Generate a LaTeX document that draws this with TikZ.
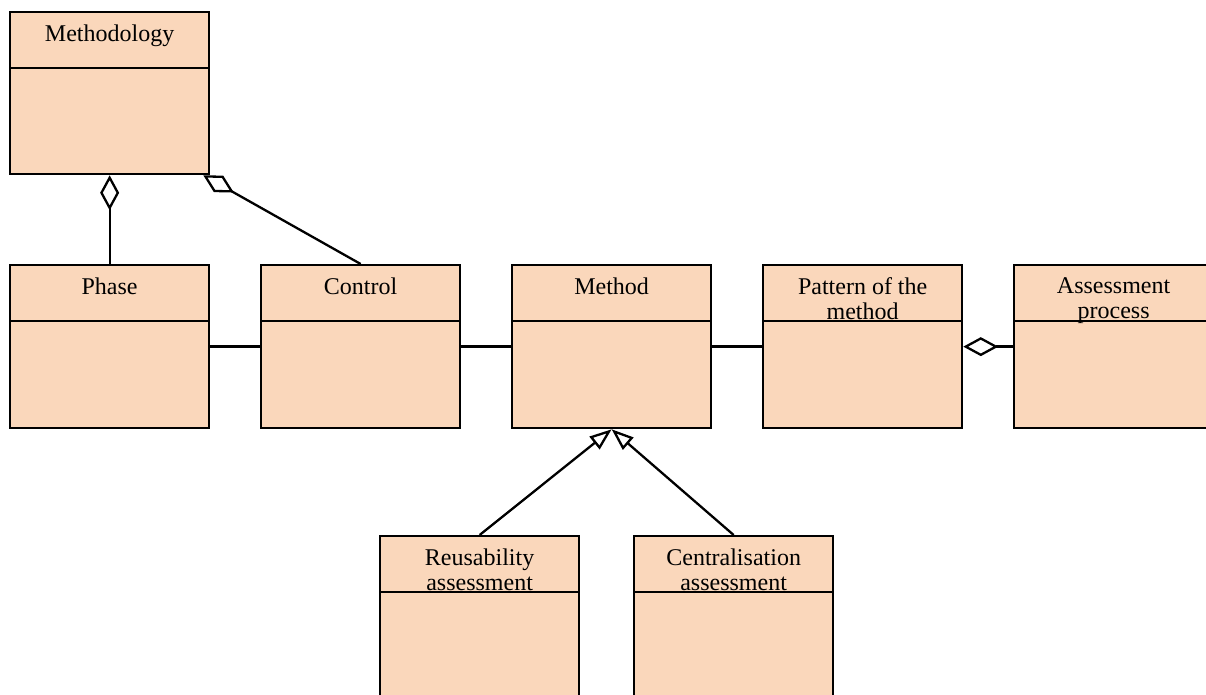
\documentclass[tikz,border=0pt]{standalone}
\usepackage{fontspec}
\setmainfont{Liberation Serif}
\usetikzlibrary{arrows.meta,calc}
\definecolor{classfill}{RGB}{250,215,187}
\begin{document}
\begin{tikzpicture}[x=0.5pt,y=-0.5pt,
  classbox/.style={draw=black, line width=1.15pt, fill=classfill, inner sep=0pt,
    minimum width=99.5pt, minimum height=81.5pt, anchor=north west},
  classname/.style={anchor=north, align=center, inner sep=0pt,
    font=\fontsize{12}{12.5}\selectfont},
  link/.style={line width=1.15pt, draw=black},
  aggr/.style={link, {Diamond[open, length=17.5pt, width=9.5pt, line width=1.15pt]}-},
  gen/.style={link, -{Triangle[open, length=11pt, width=8pt, line width=1.15pt]}}
]
\clip (0,0) rectangle (1206,695);

% class boxes
\node[classbox, minimum height=81pt] (methodology) at (9,11) {};
\node[classbox] (phase)   at (9,264) {};
\node[classbox] (control) at (260,264) {};
\node[classbox] (method)  at (511,264) {};
\node[classbox] (pattern) at (762,264) {};
\node[classbox] (assess)  at (1013,264) {};
\node[classbox, minimum height=100pt] (reuse)   at (379,535) {};
\node[classbox, minimum height=100pt] (central) at (633,535) {};

% name compartments
\foreach \c in {methodology,phase,control,method,pattern,assess,reuse,central}
  \draw[link] ($(\c.north west)+(0,57)$) -- ($(\c.north east)+(0,57)$);

% class names
\node[classname] (tmethodology) at ($(methodology.north)+(0,13)$) {Methodology};
\node[classname] (tphase)   at ($(phase.north)+(0,13)$) {Phase};
\node[classname] (tcontrol) at ($(control.north)+(0,13)$) {Control};
\node[classname] (tmethod)  at ($(method.north)+(0,13)$) {Method};
\node[classname] (tpattern) at ($(pattern.north)+(0,13)$) {Pattern of the\\method};
\node[classname] (tassess)  at ($(assess.north)+(0,13)$) {Assessment\\process};
\node[classname] (treuse)   at ($(reuse.north)+(0,13)$) {Reusability\\assessment};
\node[classname] (tcentral) at ($(central.north)+(0,13)$) {Centralisation\\assessment};

% aggregations
\draw[aggr] (methodology.south) -- (phase.north);
\draw[aggr] ($(methodology.south east)+(-7,0)$) -- (control.north);
\draw[aggr] (pattern.east) -- (assess.west);

% plain associations
\draw[link] (phase.east) -- (control.west);
\draw[link] (control.east) -- (method.west);
\draw[link] (method.east) -- (pattern.west);

% generalisations
\draw[gen] (reuse.north) -- (method.south);
\draw[gen] (central.north) -- (method.south);
\end{tikzpicture}
\end{document}
